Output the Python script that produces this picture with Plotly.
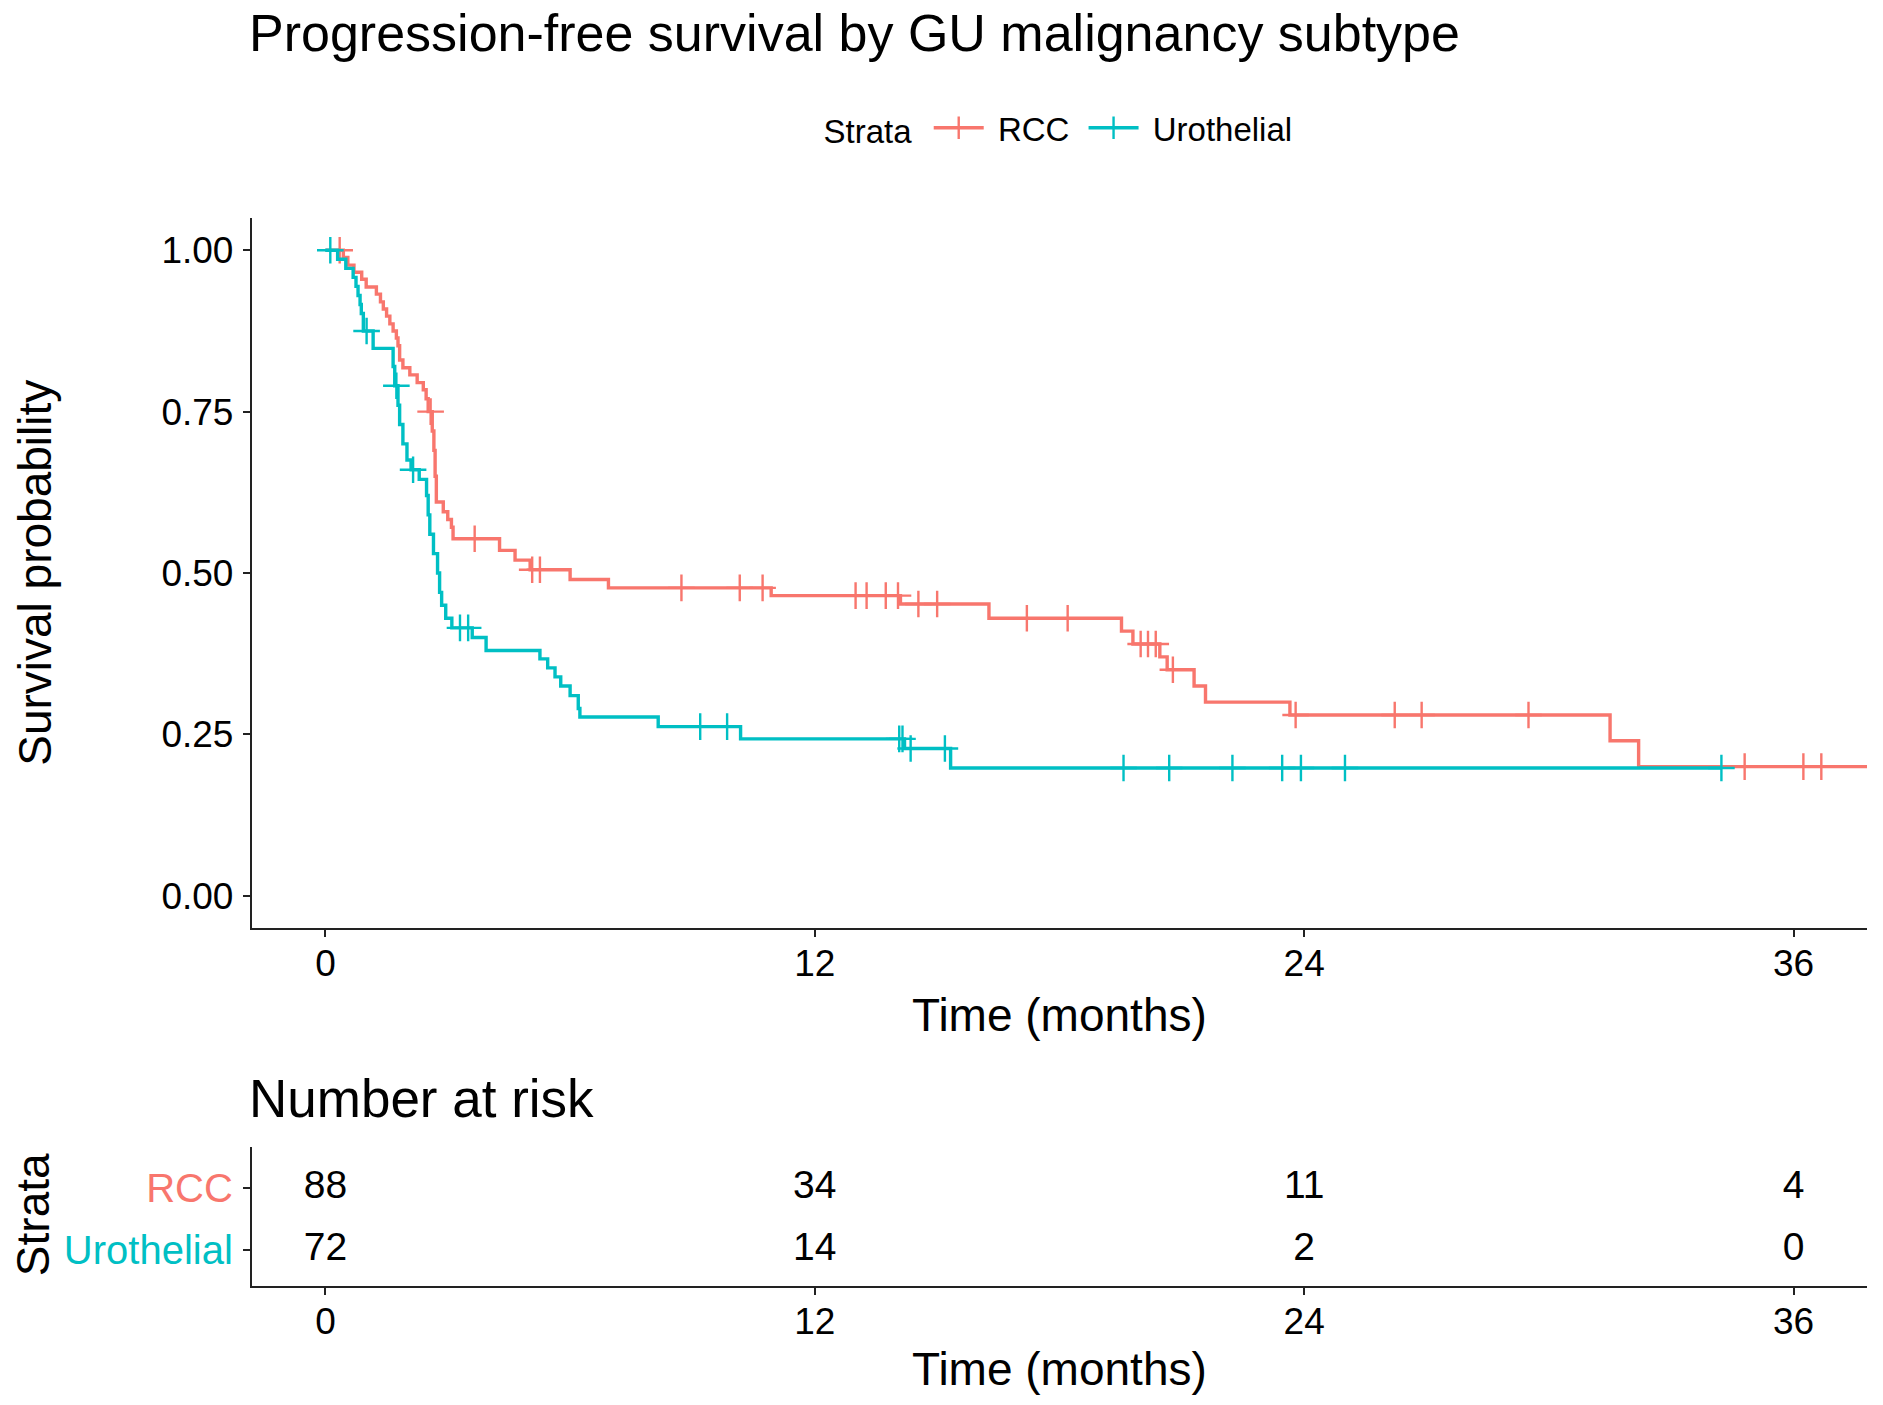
import numpy as np
import plotly.graph_objects as go

# ---------------- data ----------------
rcc_time = [0, 0.44, 0.55, 0.70, 0.89, 1.00, 1.25, 1.35, 1.42, 1.50, 1.58, 1.66, 1.74, 1.78, 1.82,
            1.90, 2.07, 2.25, 2.40, 2.47, 2.52, 2.62, 2.66, 2.69, 2.72, 2.89, 3.00, 3.09, 3.13, 4.27,
            4.65, 5.02, 6.00, 6.94, 10.93, 14.10, 16.27, 19.52, 19.80, 20.46, 20.64, 21.30, 21.58,
            23.65, 31.50, 32.20]
rcc_surv = [1.0, 0.989, 0.977, 0.966, 0.955, 0.943, 0.932, 0.920, 0.909, 0.898, 0.886, 0.875, 0.864,
            0.852, 0.830, 0.818, 0.807, 0.795, 0.784, 0.770, 0.750, 0.720, 0.690, 0.650, 0.610, 0.595,
            0.583, 0.571, 0.553, 0.535, 0.520, 0.505, 0.490, 0.477, 0.465, 0.452, 0.430, 0.410, 0.390,
            0.370, 0.350, 0.325, 0.300, 0.280, 0.240, 0.200]
rcc_last_followup = 38.5
rcc_censor = [0.35, 2.58, 3.66, 5.07, 5.26, 8.73, 10.16, 10.72, 13.0, 13.27, 13.74, 14.04, 14.54, 15.0,
              17.2, 18.2, 19.99, 20.17, 20.36, 20.78, 23.79, 26.22, 26.88, 29.5, 34.8, 36.24, 36.68]

uro_time = [0, 0.30, 0.50, 0.68, 0.75, 0.80, 0.85, 0.88, 0.93, 1.17, 1.66, 1.70, 1.78, 1.82, 1.90,
            2.00, 2.10, 2.30, 2.48, 2.52, 2.56, 2.65, 2.75, 2.80, 2.85, 2.95, 3.10, 3.60, 3.94, 5.26,
            5.45, 5.63, 5.77, 6.00, 6.20, 6.24, 8.16, 10.18, 14.20, 15.33]
uro_surv = [1.0, 0.986, 0.972, 0.958, 0.944, 0.930, 0.916, 0.902, 0.875, 0.848, 0.820, 0.790, 0.760,
            0.730, 0.700, 0.675, 0.660, 0.645, 0.620, 0.590, 0.560, 0.530, 0.500, 0.470, 0.450, 0.430,
            0.415, 0.400, 0.380, 0.367, 0.353, 0.339, 0.325, 0.310, 0.290, 0.277, 0.262, 0.243, 0.228,
            0.198]
uro_last_followup = 34.23
uro_censor = [0.12, 1.01, 1.74, 2.15, 3.30, 3.50, 9.19, 9.85, 14.07, 14.15, 14.35, 15.19, 19.57, 20.69,
              22.24, 23.46, 23.92, 25.0, 34.23]

risk_times = [0, 12, 24, 36]
risk_rcc = [88, 34, 11, 4]
risk_uro = [72, 14, 2, 0]

strata = ["RCC", "Urothelial"]
colors = {"RCC": "#F8766D", "Urothelial": "#00BFC4"}

x_ticks = [0, 12, 24, 36]
y_ticks = [0, 0.25, 0.5, 0.75, 1.0]
y_ticktext = ["0.00", "0.25", "0.50", "0.75", "1.00"]

FONT = "Liberation Sans, Arial, sans-serif"
LW = 3.4

def step_value(times, surv, t):
    idx = np.searchsorted(np.array(times), t, side="right") - 1
    return np.array(surv)[idx]

fig = go.Figure()

curves = {
    "RCC": (rcc_time, rcc_surv, rcc_last_followup, rcc_censor),
    "Urothelial": (uro_time, uro_surv, uro_last_followup, uro_censor),
}

for name in strata:
    t, s, last, cens = curves[name]
    xs = list(t) + [last]
    ys = list(s) + [s[-1]]
    fig.add_trace(go.Scatter(x=xs, y=ys, mode="lines", line=dict(color=colors[name], width=LW, shape="hv"),
                             showlegend=False, xaxis="x", yaxis="y"))
    cy = step_value(t, s, np.array(cens))
    fig.add_trace(go.Scatter(x=cens, y=cy, mode="markers",
                             marker=dict(symbol="cross-thin", size=19, line=dict(color=colors[name], width=2.4)),
                             showlegend=False, xaxis="x", yaxis="y"))

# legend entries
legend_names = {"RCC": "\u00a0RCC\u00a0", "Urothelial": "\u00a0Urothelial"}
for name in strata:
    fig.add_trace(go.Scatter(x=[None], y=[None], mode="lines+markers", name=legend_names[name],
                             line=dict(color=colors[name], width=LW),
                             marker=dict(symbol="cross-thin", size=18, line=dict(color=colors[name], width=2.4)),
                             xaxis="x", yaxis="y"))

# risk table
for yv, name, vals in [(1, "RCC", risk_rcc), (0, "Urothelial", risk_uro)]:
    fig.add_trace(go.Scatter(x=risk_times, y=[yv] * len(risk_times), mode="text",
                             text=[str(v) for v in vals], textposition="middle center",
                             textfont=dict(size=39, color="black", family=FONT),
                             showlegend=False, xaxis="x2", yaxis="y2"))

axis_common = dict(showline=True, linecolor="#222222", linewidth=2.4, ticks="outside", ticklen=7, tickwidth=2,
                   tickcolor="#222222", showgrid=False, zeroline=False, automargin=False,
                   tickfont=dict(size=37, color="black", family=FONT))

fig.update_layout(
    width=1883, height=1405,
    margin=dict(l=252, r=16, t=218, b=119, autoexpand=False),
    paper_bgcolor="white", plot_bgcolor="white",
    font=dict(family=FONT, color="black"),
    xaxis=dict(domain=[0, 1], range=[-1.8, 37.8], tickvals=x_ticks, anchor="y", ticklabelstandoff=-6,
               **axis_common),
    yaxis=dict(domain=[0.3352, 1], range=[-0.05, 1.05], tickvals=y_ticks, ticktext=y_ticktext,
               anchor="x", ticklabelstandoff=2, **axis_common),
    xaxis2=dict(domain=[0, 1], range=[-1.8, 37.8], tickvals=x_ticks, anchor="y2", ticklabelstandoff=-6,
                **axis_common),
    yaxis2=dict(domain=[0, 0.1301], range=[-0.58, 1.66], tickvals=[1, 0],
                ticktext=['<span style="color:#F8766D">RCC</span>',
                          '<span style="color:#00BFC4">Urothelial</span>'],
                anchor="x2", ticklabelstandoff=2,
                **{**axis_common, "tickfont": dict(size=40, family=FONT)}),
    legend=dict(orientation="h", x=0.5, xanchor="center", y=1.0845, yanchor="middle",
                title=dict(text="Strata ", font=dict(size=33, family=FONT)),
                font=dict(size=33, family=FONT), itemwidth=50, bgcolor="rgba(0,0,0,0)"),
    showlegend=True,
)

ann = [
    dict(text="Progression-free survival by GU malignancy subtype", x=-0.003, y=1.1735, xref="paper", yref="paper",
         xanchor="left", yanchor="middle", showarrow=False, font=dict(size=52, family=FONT, color="black")),
    dict(text="Time (months)", x=0.5, y=0.2537, xref="paper", yref="paper", xanchor="center", yanchor="middle",
         showarrow=False, font=dict(size=46, family=FONT, color="black")),
    dict(text="Survival probability", x=-0.1345, y=0.6676, xref="paper", yref="paper", xanchor="center",
         yanchor="middle", textangle=-90, showarrow=False, font=dict(size=46, family=FONT, color="black")),
    dict(text="Number at risk", x=-0.003, y=0.1751, xref="paper", yref="paper", xanchor="left", yanchor="middle",
         showarrow=False, font=dict(size=53, family=FONT, color="black")),
    dict(text="Strata", x=-0.1355, y=0.0665, xref="paper", yref="paper", xanchor="center", yanchor="middle",
         textangle=-90, showarrow=False, font=dict(size=46, family=FONT, color="black")),
    dict(text="Time (months)", x=0.5, y=-0.0777, xref="paper", yref="paper", xanchor="center", yanchor="middle",
         showarrow=False, font=dict(size=46, family=FONT, color="black")),
]
fig.update_layout(annotations=ann)

fig.write_html("out.html", config={"displayModeBar": False},
               post_script="document.body.style.margin='0';document.body.style.padding='0';")
